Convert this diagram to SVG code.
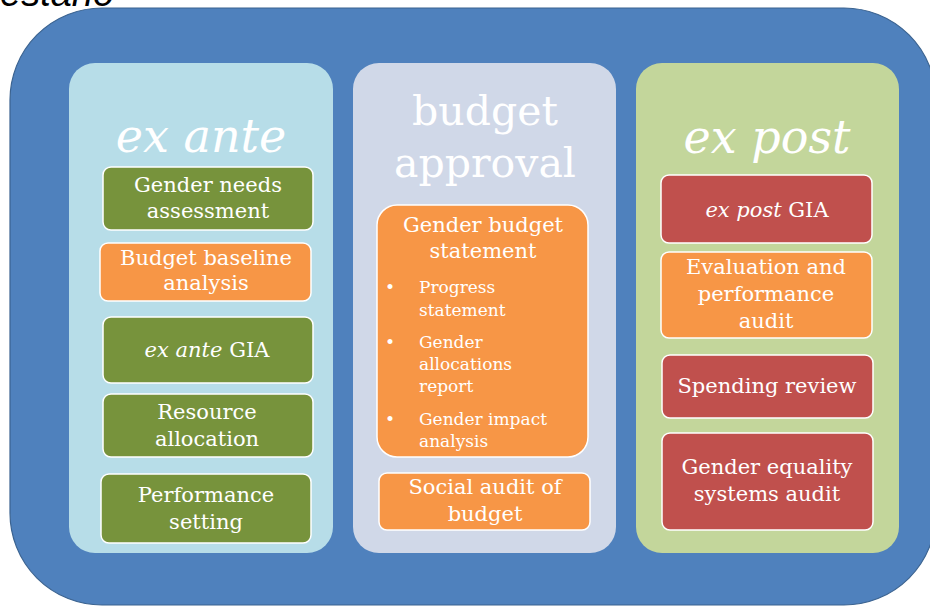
<svg xmlns="http://www.w3.org/2000/svg" width="930" height="608" viewBox="0 0 930 608">
<defs>
<style>
text{font-family:"DejaVu Serif","Liberation Serif",serif;fill:#ffffff;text-anchor:middle}
.h{font-size:46px;font-style:italic}
.h2{font-size:41px}
.t{font-size:21px}
.s{font-size:17px;text-anchor:start}
.g{fill:#77933c;stroke:#ffffff;stroke-width:1.5}
.o{fill:#f79646;stroke:#ffffff;stroke-width:1.5}
.r{fill:#c0504d;stroke:#ffffff;stroke-width:1.5}
</style>
</defs>
<rect width="930" height="608" fill="#ffffff"/>
<text x="0" y="6" style="font-family:'Liberation Sans',Arial,sans-serif;font-size:38px;font-style:italic;fill:#000000;text-anchor:start">estario</text>
<g id="frame">
<rect x="10" y="8" width="926" height="597" rx="92" ry="92" fill="#4f81bd" stroke="#3b6390" stroke-width="1.2"/>
</g>
<g id="panel-ex-ante">
<rect x="69" y="63" width="264" height="490" rx="26" fill="#b7dde8"/>
<text class="h" x="201" y="152">ex ante</text>
</g>
<g id="panel-budget-approval">
<rect x="353" y="63" width="263" height="490" rx="26" fill="#d0d8e8"/>
<text class="h2" x="485" y="125">budget</text>
<text class="h2" x="485" y="177">approval</text>
</g>
<g id="panel-ex-post">
<rect x="636" y="63" width="263" height="490" rx="26" fill="#c3d69b"/>
<text class="h" x="767" y="153">ex post</text>
</g>
<g id="gender-needs-assessment">
<rect class="g" x="103" y="167" width="210" height="63" rx="8"/>
<text class="t" x="208" y="192">Gender needs</text>
<text class="t" x="208" y="218">assessment</text>
</g>
<g id="budget-baseline-analysis">
<rect class="o" x="100" y="243" width="211" height="58" rx="8"/>
<text class="t" x="206" y="265">Budget baseline</text>
<text class="t" x="206" y="290">analysis</text>
</g>
<g id="ex-ante-gia">
<rect class="g" x="103" y="317" width="210" height="66" rx="8"/>
<text class="t" x="207" y="357"><tspan font-style="italic">ex ante</tspan> GIA</text>
</g>
<g id="resource-allocation">
<rect class="g" x="103" y="394" width="210" height="63" rx="8"/>
<text class="t" x="207" y="419">Resource</text>
<text class="t" x="207" y="446">allocation</text>
</g>
<g id="performance-setting">
<rect class="g" x="101" y="474" width="210" height="69" rx="8"/>
<text class="t" x="206" y="502">Performance</text>
<text class="t" x="206" y="529">setting</text>
</g>
<g id="gender-budget-statement">
<rect class="o" x="377" y="205" width="211" height="252" rx="20"/>
<text class="t" x="483" y="232">Gender budget</text>
<text class="t" x="483" y="258">statement</text>
<text class="s" x="385" y="293">•</text>
<text class="s" x="419" y="293">Progress</text>
<text class="s" x="419" y="316">statement</text>
<text class="s" x="385" y="348">•</text>
<text class="s" x="419" y="348">Gender</text>
<text class="s" x="419" y="370">allocations</text>
<text class="s" x="419" y="392">report</text>
<text class="s" x="385" y="425">•</text>
<text class="s" x="419" y="425">Gender impact</text>
<text class="s" x="419" y="447">analysis</text>
</g>
<g id="social-audit">
<rect class="o" x="379" y="473" width="211" height="57" rx="8"/>
<text class="t" x="485" y="494">Social audit of</text>
<text class="t" x="485" y="521">budget</text>
</g>
<g id="ex-post-gia">
<rect class="r" x="661" y="175" width="211" height="68" rx="8"/>
<text class="t" x="767" y="217"><tspan font-style="italic">ex post</tspan> GIA</text>
</g>
<g id="evaluation-performance-audit">
<rect class="o" x="661" y="252" width="211" height="86" rx="8"/>
<text class="t" x="766" y="274">Evaluation and</text>
<text class="t" x="766" y="301">performance</text>
<text class="t" x="766" y="328">audit</text>
</g>
<g id="spending-review">
<rect class="r" x="662" y="355" width="211" height="63" rx="8"/>
<text class="t" x="767" y="393">Spending review</text>
</g>
<g id="gender-equality-systems-audit">
<rect class="r" x="662" y="433" width="211" height="97" rx="8"/>
<text class="t" x="767" y="474">Gender equality</text>
<text class="t" x="767" y="501">systems audit</text>
</g>
</svg>
